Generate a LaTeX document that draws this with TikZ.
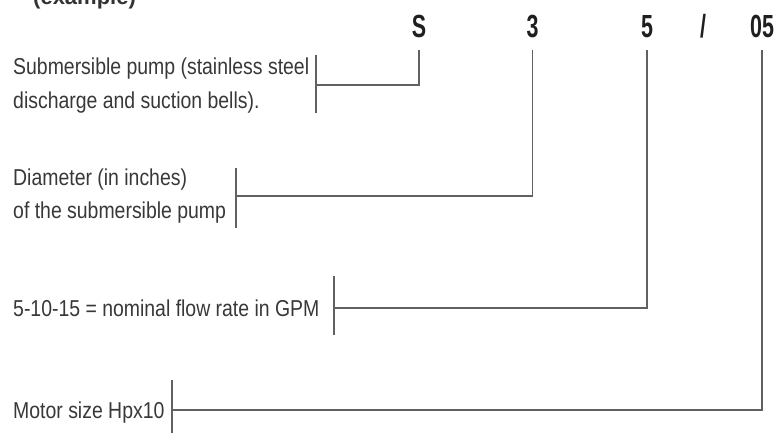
\documentclass[tikz,border=0pt]{standalone}
\usepackage{fontspec}
\setmainfont{Liberation Sans}[FakeStretch=0.845]
\newfontfamily\codefont{Liberation Sans Bold}[FakeStretch=0.67]
\newfontfamily\titlefont{Liberation Sans Bold}
\begin{document}
\begin{tikzpicture}[x=1pt,y=-1pt,
  lbl/.style={anchor=base west,inner sep=0pt,text=black!78,font=\fontsize{23}{34}\selectfont,align=left},
  code/.style={anchor=base,inner sep=0pt,text=black!88,font=\codefont\fontsize{32}{34}\selectfont},
  conn/.style={draw=black!62,line width=1.1pt},
  bar/.style={draw=black!62,line width=1.1pt}]
\useasboundingbox (0,0) rectangle (778,432);
% title (cut off at the top)
\node[anchor=base west,inner sep=0pt,text=black!80,font=\titlefont\fontsize{22}{26}\selectfont] (title) at (33,4) {(example)};
% code letters
\node[code] (cS) at (419,37.5) {S};
\node[code] (c3) at (532.5,37.5) {3};
\node[code] (c5) at (647,37.5) {5};
\node[code] (sl) at (703,37.5) {/};
\node[code] (c05) at (762,37.5) {05};
% labels
\node[lbl] (l1) at (13,74.5) {Submersible pump (stainless steel};
\node[lbl] (l1b) at (13,108) {discharge and suction bells).};
\node[lbl] (l2) at (13,185) {Diameter (in inches)};
\node[lbl] (l2b) at (13,218) {of the submersible pump};
\node[lbl] (l3) at (13,316) {5-10-15 = nominal flow rate in GPM};
\node[lbl] (l4) at (13,418) {Motor size Hpx10};
% bar anchor points
\coordinate (b1) at (316,85);
\coordinate (b2) at (236,196);
\coordinate (b3) at (334,308);
\coordinate (b4) at (172,410);
% bars
\draw[bar] ([yshift=30pt]b1) -- ([yshift=-28pt]b1);
\draw[bar] ([yshift=28pt]b2) -- ([yshift=-32pt]b2);
\draw[bar] ([yshift=32pt]b3) -- ([yshift=-27pt]b3);
\draw[bar] ([yshift=30pt]b4) -- ([yshift=-24pt]b4);
% connectors
\draw[conn] (b1) -| ([yshift=-12.5pt]cS.base);
\draw[conn] (b2) -| ([yshift=-12.5pt]c3.base);
\draw[conn] (b3) -| ([yshift=-12.5pt]c5.base);
\draw[conn] (b4) -| ([yshift=-12.5pt]c05.base);
\end{tikzpicture}
\end{document}
